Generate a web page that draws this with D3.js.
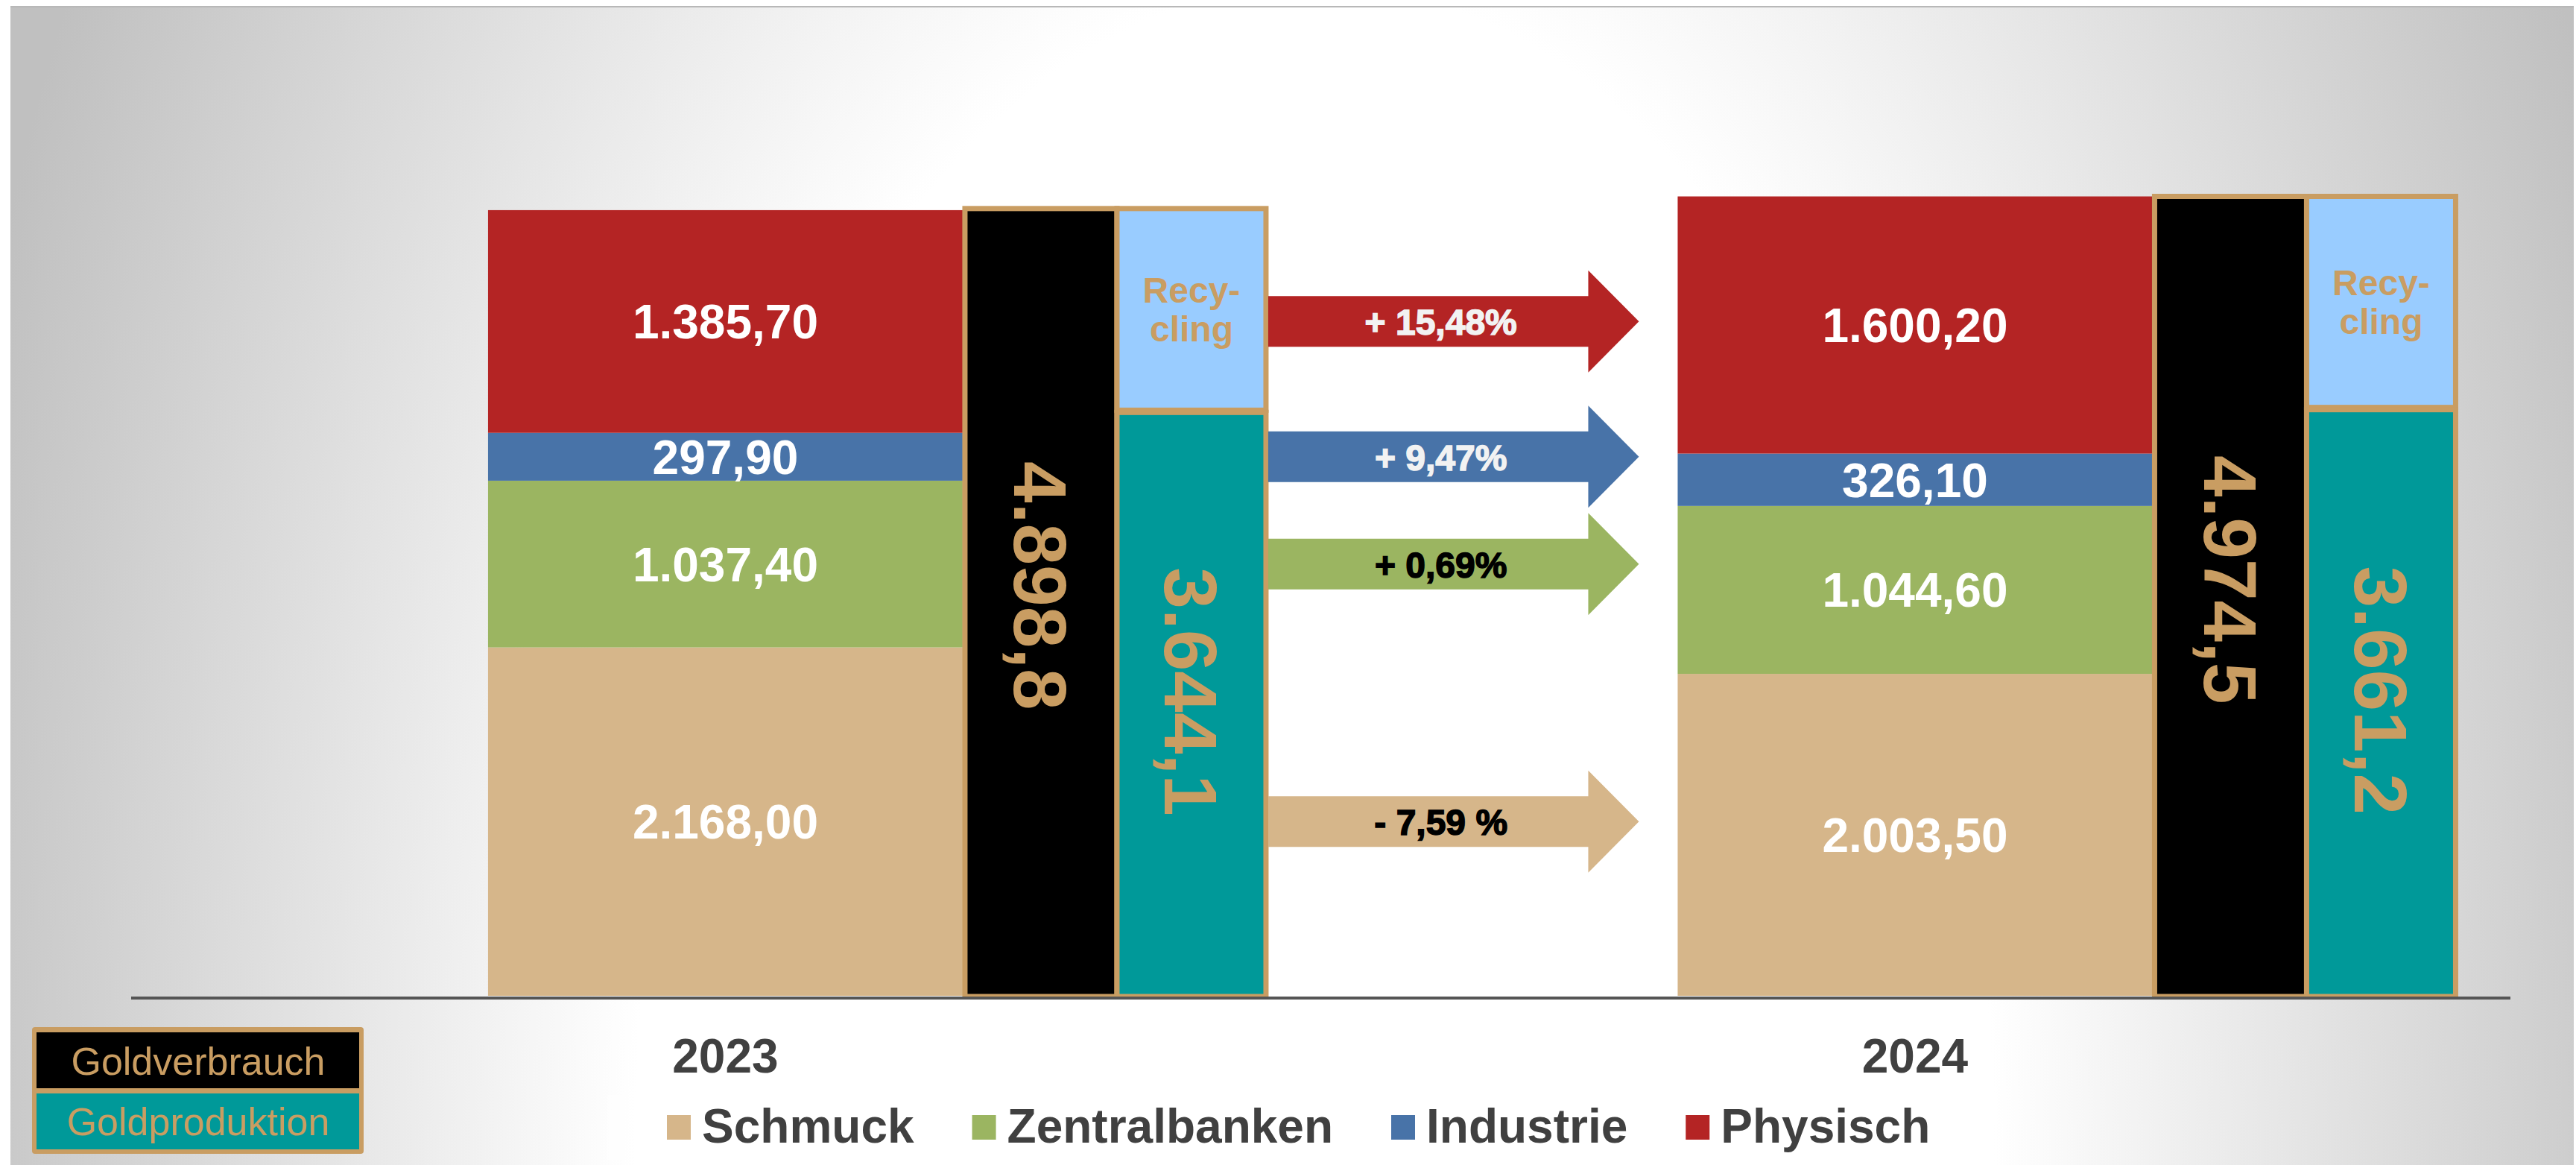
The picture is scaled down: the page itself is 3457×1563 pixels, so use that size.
<!DOCTYPE html>
<html>
<head>
<meta charset="utf-8">
<script src="https://cdn.jsdelivr.net/npm/d3@7"></script>
<style>
  html, body { margin: 0; padding: 0; background: #fff; }
  svg { display: block; font-family: "Liberation Sans", Arial, sans-serif; }
</style>
</head>
<body>
<svg id="chart" width="3457" height="1563"></svg>
<script>
// data
var years = ["2023", "2024"];
var categories = ["Schmuck", "Zentralbanken", "Industrie", "Physisch"];
var schmuck = [2168.00, 2003.50];
var zentralbanken = [1037.40, 1044.60];
var industrie = [297.90, 326.10];
var physisch = [1385.70, 1600.20];
var goldverbrauch = [4898.8, 4974.5];
var goldproduktion = [3644.1, 3661.2];
var recycling = [1254.7, 1313.3];
var changeLabels = ["- 7,59 %", "+ 0,69%", "+ 9,47%", "+ 15,48%"];

var catColors = ["#D6B68A", "#9BB561", "#4873A8", "#B42424"];
var arrowTextColors = ["#000", "#000", "#F2F2F2", "#F2F2F2"];
var gold = "#C99D62";

var de = d3.formatLocale({ decimal: ",", thousands: ".", grouping: [3], currency: ["", " €"] });
var fmt2 = de.format(",.2f"), fmt1 = de.format(",.1f");

var svg = d3.select("#chart");
var W = 3457, H = 1563, baseY = 1336;

// background
var defs = svg.append("defs");
var grad = defs.append("radialGradient").attr("id", "bg")
  .attr("gradientUnits", "userSpaceOnUse")
  .attr("cx", 1764).attr("cy", 1563).attr("r", 1900)
  .attr("gradientTransform", "translate(1764,1563) scale(1,1.737) translate(-1764,-1563)");
grad.append("stop").attr("offset", 0).attr("stop-color", "#fff");
grad.append("stop").attr("offset", 0.48).attr("stop-color", "#fff");
grad.append("stop").attr("offset", 1).attr("stop-color", "#c0c0c0");

svg.append("rect").attr("x", 14).attr("y", 8).attr("width", 3440).attr("height", H - 8).attr("fill", "url(#bg)");
svg.append("line").attr("x1", 14).attr("x2", 3454).attr("y1", 9).attr("y2", 9).attr("stroke", "#b8b8b8").attr("stroke-width", 2);

// scales
var x = d3.scaleBand().domain(years).range([176, 3369]);
var step = x.step();
var y = d3.scaleLinear().domain([0, 5000]).range([baseY, baseY - 1078]);
function gx(yr) { return x(yr) + step * 0.3; }
var stackW = 637, sideW = 204, prodW = 200;

var table = years.map(function (yr, i) {
  return { year: yr, Schmuck: schmuck[i], Zentralbanken: zentralbanken[i], Industrie: industrie[i], Physisch: physisch[i] };
});
var series = d3.stack().keys(categories)(table);

// stacked segments
var segs = svg.append("g").selectAll("g")
  .data(series).join("g")
  .attr("fill", function (d, i) { return catColors[i]; });

segs.selectAll("rect")
  .data(function (d) { return d; })
  .join("rect")
  .attr("x", function (d) { return gx(d.data.year); })
  .attr("y", function (d) { return y(d[1]); })
  .attr("width", stackW)
  .attr("height", function (d) { return y(d[0]) - y(d[1]); });

segs.selectAll("text")
  .data(function (d) { return d; })
  .join("text")
  .attr("x", function (d) { return gx(d.data.year) + stackW / 2; })
  .attr("y", function (d) { return y((d[0] + d[1]) / 2) + 23; })
  .attr("text-anchor", "middle")
  .attr("fill", "#fff")
  .attr("font-weight", "bold")
  .attr("font-size", 64)
  .text(function (d) { return fmt2(d[1] - d[0]); });

// Goldverbrauch bars
years.forEach(function (yr, i) {
  var bx = gx(yr) + stackW + 3;
  svg.append("rect")
    .attr("x", bx).attr("y", y(goldverbrauch[i]))
    .attr("width", sideW).attr("height", y(0) - y(goldverbrauch[i]) + 1)
    .attr("fill", "#000").attr("stroke", gold).attr("stroke-width", 7);

  var px = bx + sideW;
  var prodTop = y(goldproduktion[i]);
  svg.append("rect")
    .attr("x", px).attr("y", y(goldproduktion[i] + recycling[i]))
    .attr("width", prodW).attr("height", prodTop - y(goldproduktion[i] + recycling[i]))
    .attr("fill", "#99CCFF").attr("stroke", gold).attr("stroke-width", 7);
  svg.append("rect")
    .attr("x", px).attr("y", prodTop + 3)
    .attr("width", prodW).attr("height", y(0) - prodTop - 2)
    .attr("fill", "#009999").attr("stroke", gold).attr("stroke-width", 7);

  var fs = 100;
  var cyB = (y(goldverbrauch[i]) + y(0)) / 2 - 22;
  svg.append("text")
    .attr("transform", "translate(" + (bx + sideW / 2 - fs * 0.358) + "," + cyB + ") rotate(90)")
    .attr("text-anchor", "middle").attr("font-weight", "bold").attr("font-size", fs)
    .attr("fill", gold).text(fmt1(goldverbrauch[i]));

  var cyP = (prodTop + y(0)) / 2 - 15;
  svg.append("text")
    .attr("transform", "translate(" + (px + prodW / 2 - fs * 0.358) + "," + cyP + ") rotate(90)")
    .attr("text-anchor", "middle").attr("font-weight", "bold").attr("font-size", fs)
    .attr("fill", gold).text(fmt1(goldproduktion[i]));

  var cyR = (y(goldproduktion[i] + recycling[i]) + prodTop) / 2;
  var rt = svg.append("text").attr("text-anchor", "middle").attr("font-weight", "bold")
    .attr("font-size", 48).attr("fill", gold);
  rt.append("tspan").attr("x", px + prodW / 2).attr("y", cyR - 9).text("Recy-");
  rt.append("tspan").attr("x", px + prodW / 2).attr("y", cyR + 43).text("cling");
});

// baseline
svg.append("line")
  .attr("x1", x.range()[0]).attr("x2", x.range()[1])
  .attr("y1", baseY + 3).attr("y2", baseY + 3)
  .attr("stroke", "#555").attr("stroke-width", 4);

// arrows
var ax0 = gx("2023") + stackW + 3 + sideW + prodW + 3;
var tip = gx("2024") - 52;
var headB = tip - 68;
var s2023 = series.map(function (s) { return s[0]; });
s2023.forEach(function (d, i) {
  var cy = y((d[0] + d[1]) / 2);
  var pts = [[ax0, cy - 34], [headB, cy - 34], [headB, cy - 68.5], [tip, cy],
             [headB, cy + 68.5], [headB, cy + 34], [ax0, cy + 34]];
  svg.append("path").attr("d", d3.line()(pts) + "Z").attr("fill", catColors[i]);
  svg.append("text")
    .attr("x", (ax0 + tip) / 2 - 17).attr("y", cy + 18)
    .attr("text-anchor", "middle").attr("font-weight", "bold").attr("font-size", 48)
    .attr("fill", arrowTextColors[i]).attr("stroke", arrowTextColors[i]).attr("stroke-width", 1.5)
    .text(changeLabels[i]);
});

// year labels
svg.append("g").selectAll("text").data(years).join("text")
  .attr("x", function (d) { return gx(d) + stackW / 2; })
  .attr("y", 1439)
  .attr("text-anchor", "middle").attr("font-weight", "bold").attr("font-size", 64)
  .attr("fill", "#404040").text(function (d) { return d; });

// category legend
svg.append("rect").attr("x", 815).attr("y", 1469).attr("width", 1837).attr("height", 87)
  .attr("fill", "#fff").attr("opacity", 0.35);
var lx = 895;
categories.forEach(function (c, i) {
  svg.append("rect").attr("x", lx).attr("y", 1496).attr("width", 32).attr("height", 33).attr("fill", catColors[i]);
  var t = svg.append("text").attr("x", lx + 47).attr("y", 1533)
    .attr("font-weight", "bold").attr("font-size", 64).attr("fill", "#404040").text(c);
  lx += 47 + t.node().getComputedTextLength() + 78;
});

// Goldverbrauch / Goldproduktion legend
svg.append("rect").attr("x", 43).attr("y", 1378).attr("width", 445).attr("height", 170).attr("rx", 4).attr("fill", gold);
svg.append("rect").attr("x", 49).attr("y", 1385).attr("width", 433).attr("height", 75).attr("fill", "#000");
svg.append("rect").attr("x", 49).attr("y", 1467).attr("width", 433).attr("height", 75).attr("fill", "#009999");
svg.append("text").attr("x", 266).attr("y", 1442).attr("text-anchor", "middle").attr("font-size", 52)
  .attr("fill", gold).text("Goldverbrauch");
svg.append("text").attr("x", 266).attr("y", 1523).attr("text-anchor", "middle").attr("font-size", 52)
  .attr("fill", gold).text("Goldproduktion");
</script>
</body>
</html>
